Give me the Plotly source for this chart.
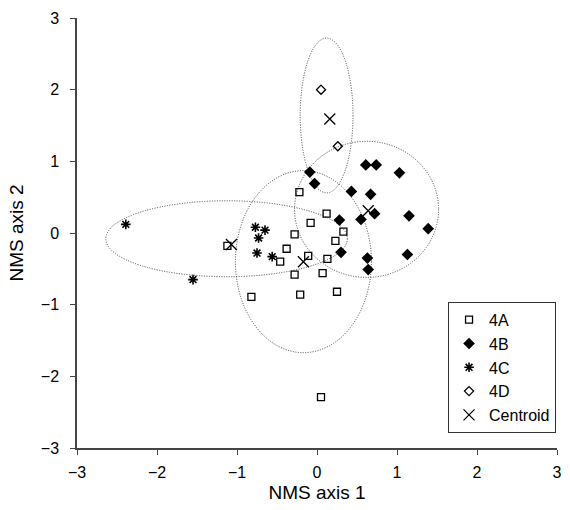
import plotly.graph_objects as go

# ---- data ----
a_x = [-0.22, 0.12, -0.08, 0.33, -0.28, 0.23, -0.38, -0.11, 0.13, -0.46, -0.28, 0.07, -0.82, -0.21, 0.25, -1.12, 0.05]
a_y = [0.57, 0.27, 0.14, 0.02, -0.02, -0.11, -0.22, -0.32, -0.36, -0.40, -0.58, -0.56, -0.89, -0.86, -0.82, -0.18, -2.29]

b_x = [0.61, 0.74, 1.03, -0.09, -0.03, 0.43, 0.67, 0.72, 0.55, 1.15, 0.28, 1.39, 0.30, 0.63, 1.13, 0.64]
b_y = [0.95, 0.95, 0.84, 0.85, 0.69, 0.58, 0.54, 0.27, 0.19, 0.24, 0.18, 0.06, -0.27, -0.35, -0.30, -0.51]

c_x = [-0.77, -0.65, -0.73, -0.75, -0.56, -1.55, -2.39]
c_y = [0.08, 0.04, -0.07, -0.28, -0.33, -0.65, 0.12]

d_x = [0.05, 0.26]
d_y = [2.00, 1.21]

centroid_x = [-0.17, 0.64, -1.07, 0.16]
centroid_y = [-0.40, 0.31, -0.16, 1.59]

# ellipse (confidence region) parameters per group: 4A, 4B, 4C, 4D
ell_cx = [-0.17, 0.62, -1.13, 0.12]
ell_cy = [-0.40, 0.33, -0.08, 1.64]
ell_rx = [0.85, 0.90, 1.51, 0.33]
ell_ry = [1.27, 0.95, 0.53, 1.08]

ticks = [-3, -2, -1, 0, 1, 2, 3]

FONT = "Liberation Sans, Arial, Helvetica, sans-serif"

fig = go.Figure()

fig.add_trace(go.Scatter(x=a_x, y=a_y, mode="markers", name="4A", legendgroup="a",
                         marker=dict(symbol="square-open", size=7, color="black", line=dict(width=1.3))))
fig.add_trace(go.Scatter(x=b_x, y=b_y, mode="markers", name="4B", legendgroup="b",
                         marker=dict(symbol="diamond", size=9, color="black", line=dict(width=0))))
fig.add_trace(go.Scatter(x=c_x, y=c_y, mode="markers", name="4C", legendgroup="c",
                         marker=dict(symbol="asterisk-open", size=8, color="black", line=dict(width=1.6, color="black"))))
fig.add_trace(go.Scatter(x=d_x, y=d_y, mode="markers", name="4D", legendgroup="d",
                         marker=dict(symbol="diamond-open", size=7, color="black", line=dict(width=1.3))))
fig.add_trace(go.Scatter(x=centroid_x, y=centroid_y, mode="markers", name="Centroid", legendgroup="e",
                         marker=dict(symbol="x-thin-open", size=11, color="black", line=dict(width=1.3, color="black"))))

for cx, cy, rx, ry in zip(ell_cx, ell_cy, ell_rx, ell_ry):
    fig.add_shape(type="circle", xref="x", yref="y",
                  x0=cx - rx, x1=cx + rx, y0=cy - ry, y1=cy + ry,
                  line=dict(color="#444444", width=1, dash="1px,1.5px"),
                  layer="below")

axis_common = dict(
    range=[-3, 3], tickvals=ticks, showgrid=False, zeroline=False,
    showline=True, linecolor="#444444", linewidth=1.5,
    ticks="outside", ticklen=5, tickcolor="#444444", tickwidth=1,
    tickfont=dict(family=FONT, size=16, color="black"),
    title_font=dict(family=FONT, size=19, color="black"),
    mirror=False,
)

fig.update_xaxes(**axis_common, title_text="NMS axis 1", title_standoff=6, ticklabelstandoff=4)
fig.update_yaxes(**axis_common, title_text="NMS axis 2", title_standoff=12, ticklabelstandoff=8)

fig.update_layout(
    width=570, height=510,
    margin=dict(l=77, r=8, t=18, b=62),
    plot_bgcolor="white", paper_bgcolor="white",
    font=dict(family=FONT, color="black"),
    showlegend=True,
    legend=dict(
        x=0.773, y=0.34, xanchor="left", yanchor="top",
        bordercolor="#333333", borderwidth=1, bgcolor="white",
        font=dict(family=FONT, size=16, color="black"),
        traceorder="grouped", tracegroupgap=0, itemwidth=30,
    ),
)

fig.write_html("out.html")
